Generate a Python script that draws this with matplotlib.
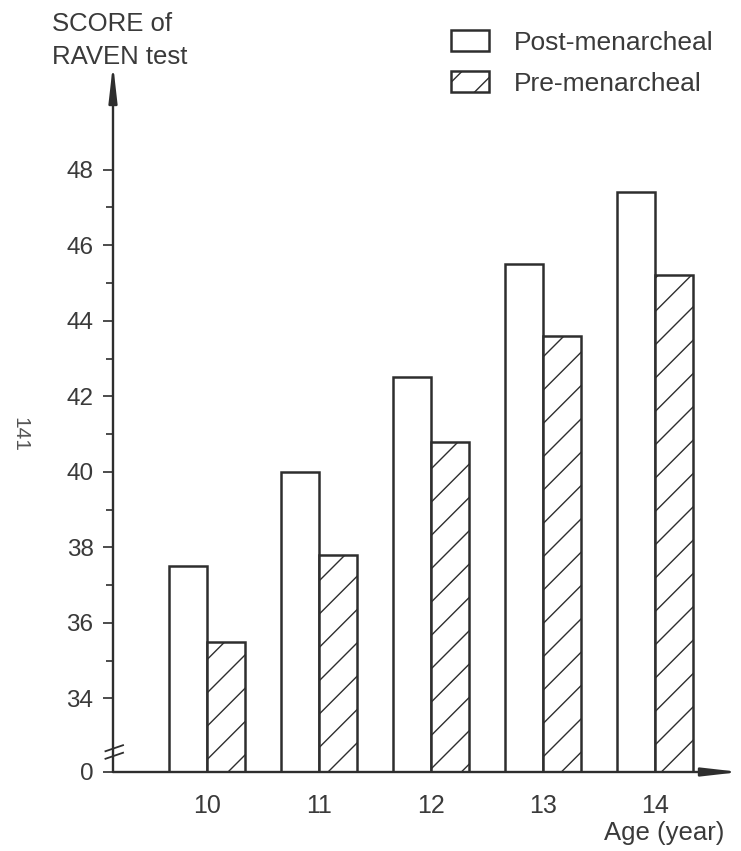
import matplotlib
matplotlib.use("Agg")
import matplotlib.pyplot as plt
import matplotlib.transforms as mtransforms
import numpy as np

plt.rcParams["font.family"] = ["Liberation Sans", "DejaVu Sans"]
plt.rcParams["hatch.linewidth"] = 1.0

ink = "#2e2e2e"
text_col = "#3a3a3a"

# data
ages = ["10", "11", "12", "13", "14"]
post_menarcheal = [37.5, 40.0, 42.5, 45.5, 47.4]
pre_menarcheal = [35.5, 37.8, 40.8, 43.6, 45.2]
y_ticks = [34, 36, 38, 40, 42, 44, 46, 48]
y_minor = [35, 37, 39, 41, 43, 45, 47]

# the broken axis: the "0" sits at this position on the scale
y_zero = 32.05
y_top = 50.8

fig = plt.figure(figsize=(7.41, 8.51), dpi=100)
ax = fig.add_axes([113 / 741, 1 - 772 / 851, 627 / 741, 708 / 851])

x = np.arange(len(ages))
w = 0.34
post_h = [v - y_zero for v in post_menarcheal]
pre_h = [v - y_zero for v in pre_menarcheal]
b_post = ax.bar(x - w / 2, post_h, w, bottom=y_zero, facecolor="white",
                edgecolor=ink, linewidth=1.8, label="Post-menarcheal", zorder=3)
b_pre = ax.bar(x + w / 2, pre_h, w, bottom=y_zero, facecolor="white",
               edgecolor=ink, linewidth=1.8, hatch="/", label="Pre-menarcheal", zorder=3)

ax.set_xlim(-0.839, 4.759)
ax.set_ylim(y_zero, y_top)
for s in ax.spines.values():
    s.set_visible(False)

# axes drawn as arrows
arrow = dict(arrowstyle="-|>,head_length=2.2,head_width=0.25", lw=1.7,
             color=ink, shrinkA=0, shrinkB=0)
ax.annotate("", xy=(0, 1), xytext=(0, 0), xycoords="axes fraction", arrowprops=arrow)
ax.annotate("", xy=(1, 0), xytext=(0, 0), xycoords="axes fraction", arrowprops=arrow)

# break marks on the y axis
trans = mtransforms.blended_transform_factory(ax.transAxes, ax.transData)
for yb in (32.48, 32.68):
    ax.plot([-0.012, 0.016], [yb - 0.08, yb + 0.08], color=ink, lw=1.3,
            transform=trans, clip_on=False, zorder=4)

ax.set_yticks([y_zero] + y_ticks, ["0"] + [str(t) for t in y_ticks])
ax.set_yticks(y_minor, minor=True)
ax.tick_params(axis="y", which="major", length=7, width=1.2, color=ink, pad=7,
               labelsize=17.5, labelcolor=text_col)
ax.tick_params(axis="y", which="minor", length=5, width=1.2, color=ink)
ax.set_xticks(x, ages)
ax.tick_params(axis="x", length=0, pad=16, labelsize=18, labelcolor=text_col)

fig.text(52 / 741, 1 - 12 / 851, "SCORE of\nRAVEN test", ha="left", va="top",
         fontsize=18.5, color=text_col, linespacing=1.45)
fig.text(724 / 741, 1 - 833 / 851, "Age (year)", ha="right", va="center",
         fontsize=18.5, color=text_col)
fig.text(20 / 741, 1 - 434 / 851, "141", ha="center", va="center", rotation=-90,
         fontsize=15, color="#555555")

fig.legend(handles=[b_post, b_pre], loc="upper left",
           bbox_to_anchor=(451 / 741, 1 - 30 / 851), frameon=False,
           fontsize=19, handlelength=1.45, handleheight=0.85, handletextpad=0.95,
           labelspacing=0.62, borderpad=0, borderaxespad=0, labelcolor=text_col)

fig.savefig("out.png", dpi=100)
